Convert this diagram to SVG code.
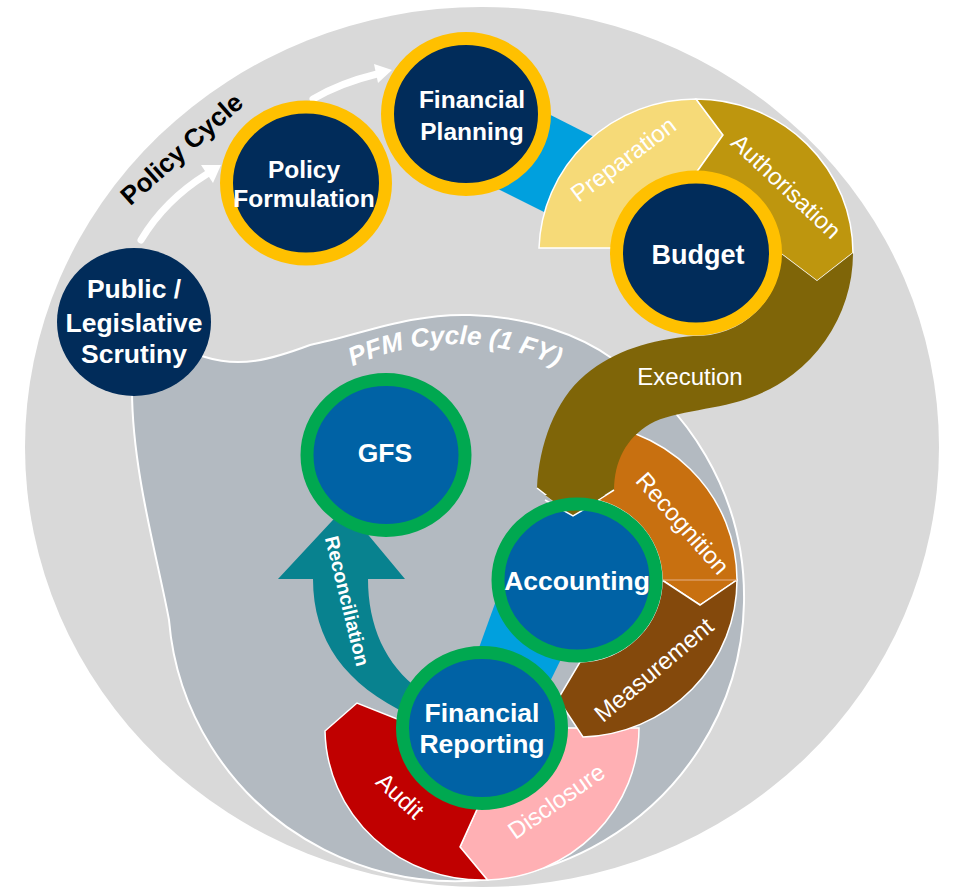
<svg xmlns="http://www.w3.org/2000/svg" width="953" height="889" viewBox="0 0 953 889">
<style>
text{font-family:"Liberation Sans",Arial,sans-serif;fill:#fff;text-anchor:middle}
.nt{font-weight:bold;font-size:26.5px}
.nts{font-weight:bold;font-size:24.5px}
.seg{font-size:24px}
.band{stroke:#fff;stroke-width:1.5;stroke-linejoin:miter}
.navy{fill:#012C5A}
.gold{stroke:#FFC000;stroke-width:13}
.blue{fill:#0062A5}
.green{stroke:#00A850;stroke-width:13}
.arr{fill:none;stroke:#fff;stroke-width:7;stroke-linecap:round}
</style>
<ellipse id="outer" cx="482" cy="447" rx="457" ry="440" fill="#D9D9D9"/>
<path id="pfm" d="M132,390 C132,470 158,560 169,620 A288 284 0 1 0 613,359 C580,335 530,317 470,315 C410,313 360,335 310,345 C270,360 240,368 205,357 L150,340 Z" fill="#B3BAC1" stroke="#fff" stroke-width="2"/>
<g id="labels-cycles">
<text transform="translate(181.5,149) rotate(-41.6)" y="9" style="font-weight:bold;font-size:26px;fill:#000">Policy Cycle</text>
<path id="pfmarc" d="M266.6,431.9 A246 246 0 0 1 643.4,431.9" fill="none"/>
<text style="font-weight:bold;font-style:italic;font-size:26px"><textPath href="#pfmarc" startOffset="50%">PFM Cycle (1 FY)</textPath></text>
</g>
<g id="connectors">
<path class="arr" d="M141,240 Q165,200 207,174"/>
<polygon points="221,165 201,165 213,183" fill="#fff"/>
<path class="arr" d="M313,99 Q340,83 377,74"/>
<polygon points="392,70 374,64 378,83" fill="#fff"/>
<polygon points="515,97 600,140 550,215 480,180" fill="#00A0DE"/>
<polygon points="497,598 591,598 540,702 463,692" fill="#00A0DE"/>
<path d="M278,579 L345,507 L405,579 L368,579 C368,625 385,665 420,690 L410,715 C345,685 313,640 313,579 Z" fill="#08828F"/>
<text transform="translate(347.5,601) rotate(76.2)" y="7" style="font-weight:bold;font-size:19.5px">Reconciliation</text>
</g>
<g id="budget-ring">
<path class="band" fill="#F6DA78" d="M539,248 A157 154 0 0 1 696,99 L723,135 L696,173 A84 80 0 0 0 612,248 Z"/>
<path class="band" fill="#BE960E" d="M696,99 A157 154 0 0 1 853,253 L817,281 L780,253 A84 80 0 0 0 696,173 L723,135 Z"/>
<text class="seg" transform="translate(623.5,159.5) rotate(-36.8)" y="8">Preparation</text>
<text class="seg" transform="translate(786,186.5) rotate(43.3)" y="8">Authorisation</text>
</g>
<g id="fr-ring">
<path class="band" fill="#FFB0B4" d="M639,728 A157 152 0 0 1 487.5,880 L460,847 L477.6,808 A84 80 0 0 0 566,728 Z"/>
<path class="band" fill="#C00000" d="M487.5,880 A157 152 0 0 1 325,731 L357,703 L398.5,719.6 A84 80 0 0 0 477.6,808 L460,847 Z"/>
<text class="seg" transform="translate(400,796) rotate(43)" y="8">Audit</text>
<text class="seg" transform="translate(556.5,801.5) rotate(-35)" y="8">Disclosure</text>
</g>
<g id="accounting-ring">
<path class="band" fill="#C87010" d="M577,423 A160 157 0 0 1 737,580 L700,605 L662,580 A85 82 0 0 0 577,498 Z"/>
<path class="band" fill="#84490C" d="M737,580 A160 157 0 0 1 583,737 L558,699 L580,662 A85 82 0 0 0 662,580 L700,605 Z"/>
<line x1="662" y1="580" x2="737" y2="580" stroke="#E4B088" stroke-width="1"/>
<text class="seg" transform="translate(682.5,523.5) rotate(48.6)" y="8">Recognition</text>
<text class="seg" transform="translate(654,670) rotate(-40.1)" y="8">Measurement</text>
</g>
<g id="execution">
<path fill="#7F6508" d="M853,253 A157 154 0 0 1 752,397 C720,410 675,410 650,424 C626,438 614,462 614,490 L573,516 L537,488 C539,445 555,400 585,375 C615,350 650,340 693,336 A84 80 0 0 0 780,253 L817,281 Z"/>
<polyline points="537,488 573,516 614,490" fill="none" stroke="#fff" stroke-width="1.5"/>
<text class="seg" x="690" y="385">Execution</text>
</g>
<g id="node-public">
<ellipse class="navy" cx="134" cy="322" rx="77" ry="74"/>
<text class="nt" x="134" y="298">Public /</text>
<text class="nt" x="134" y="332">Legislative</text>
<text class="nt" x="134" y="363">Scrutiny</text>
</g>
<g id="node-policy">
<ellipse class="navy gold" cx="306" cy="183" rx="79.5" ry="76"/>
<text class="nts" x="304" y="178">Policy</text>
<text class="nts" x="304" y="207">Formulation</text>
</g>
<g id="node-planning">
<ellipse class="navy gold" cx="466" cy="114" rx="78.5" ry="75.5"/>
<text class="nts" x="472" y="108">Financial</text>
<text class="nts" x="472" y="140">Planning</text>
</g>
<g id="node-budget">
<ellipse class="navy gold" cx="696" cy="253" rx="79.5" ry="76"/>
<text class="nt" x="698" y="264" style="font-size:27px">Budget</text>
</g>
<g id="node-gfs">
<ellipse class="blue green" cx="386" cy="455" rx="79" ry="75.5"/>
<text class="nt" x="385" y="461.5">GFS</text>
</g>
<g id="node-accounting">
<ellipse class="blue" cx="577" cy="580" rx="79" ry="76"/>
<polygon points="545,495 573,516 605,495" fill="#7F6508"/>
<polyline points="545,500 573,516 600,500" fill="none" stroke="#fff" stroke-width="1.5"/>
<ellipse cx="577" cy="580" rx="79" ry="76" fill="none" class="green"/>
<text class="nt" x="577" y="590">Accounting</text>
</g>
<g id="node-reporting">
<ellipse class="blue green" cx="482" cy="728" rx="79.5" ry="75.5"/>
<text class="nt" x="482" y="722">Financial</text>
<text class="nt" x="482" y="753">Reporting</text>
</g>
</svg>
